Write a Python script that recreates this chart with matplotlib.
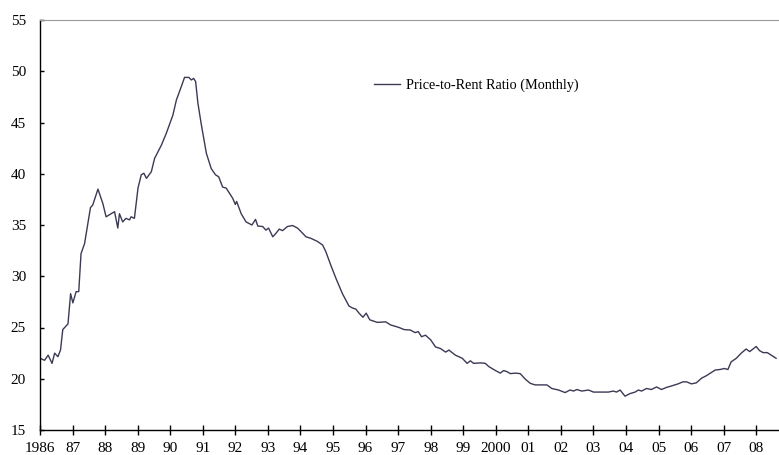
import matplotlib
matplotlib.use("Agg")
import matplotlib.pyplot as plt
import numpy as np

matplotlib.rcParams.update({
    'font.family': 'serif',
    'font.serif': ['Liberation Serif', 'DejaVu Serif'],
    'font.size': 11,
})

# price-to-rent ratio (decimal year, value)
years = [
    1986.00, 1986.14, 1986.25, 1986.37, 1986.45, 1986.55, 1986.63, 1986.70, 1986.86, 1986.94,
    1987.01, 1987.11, 1987.19, 1987.26, 1987.37, 1987.55, 1987.62, 1987.78, 1987.93,
    1988.03, 1988.29, 1988.39, 1988.44, 1988.54, 1988.64, 1988.75, 1988.80, 1988.90,
    1989.01, 1989.11, 1989.19, 1989.27, 1989.42, 1989.52, 1989.73, 1989.88,
    1990.08, 1990.19, 1990.34, 1990.44, 1990.57, 1990.65, 1990.72, 1990.78, 1990.85, 1990.95,
    1991.11, 1991.26, 1991.39, 1991.49, 1991.61, 1991.72, 1991.82, 1991.92,
    1992.00, 1992.04, 1992.18, 1992.33, 1992.51, 1992.62, 1992.69, 1992.84, 1992.94,
    1993.02, 1993.15, 1993.25, 1993.35, 1993.45, 1993.60, 1993.76, 1993.91,
    1994.02, 1994.17, 1994.32, 1994.52, 1994.68, 1994.78, 1994.93,
    1995.09, 1995.29, 1995.49, 1995.60, 1995.70, 1995.80, 1995.92,
    1996.02, 1996.13, 1996.36, 1996.62, 1996.77,
    1997.03, 1997.18, 1997.38, 1997.52, 1997.62, 1997.72, 1997.84,
    1998.00, 1998.15, 1998.30, 1998.46, 1998.56, 1998.76, 1998.97,
    1999.12, 1999.22, 1999.32, 1999.53, 1999.68, 1999.78, 1999.99,
    2000.14, 2000.24, 2000.34, 2000.45, 2000.60, 2000.75, 2000.91,
    2001.06, 2001.21, 2001.57, 2001.72, 2001.93,
    2002.13, 2002.28, 2002.39, 2002.49, 2002.64, 2002.85,
    2003.00, 2003.46, 2003.61, 2003.71, 2003.82, 2003.97,
    2004.12, 2004.28, 2004.38, 2004.48, 2004.63, 2004.78, 2004.94,
    2005.09, 2005.24, 2005.40, 2005.60, 2005.75, 2005.86,
    2006.01, 2006.16, 2006.32, 2006.47, 2006.62, 2006.74, 2006.88,
    2007.03, 2007.13, 2007.23, 2007.39, 2007.54, 2007.69, 2007.80, 2007.90,
    2008.00, 2008.10, 2008.21, 2008.34, 2008.46, 2008.61,
]
ratio = [
    22.0, 21.8, 22.3, 21.5, 22.5, 22.15, 22.8, 24.8, 25.35, 28.3,
    27.4, 28.5, 28.5, 32.2, 33.2, 36.7, 36.95, 38.5, 37.1,
    35.8, 36.3, 34.7, 36.1, 35.3, 35.65, 35.5, 35.8, 35.65,
    38.6, 39.9, 40.05, 39.55, 40.2, 41.5, 42.8, 43.95,
    45.7, 47.2, 48.5, 49.4, 49.4, 49.15, 49.3, 49.0, 46.9, 44.9,
    42.0, 40.5, 39.9, 39.7, 38.7, 38.6, 38.1, 37.6,
    37.0, 37.3, 36.1, 35.3, 35.0, 35.55, 34.9, 34.85, 34.5,
    34.7, 33.85, 34.2, 34.6, 34.45, 34.85, 34.95, 34.7,
    34.35, 33.85, 33.7, 33.4, 33.05, 32.4, 31.1,
    29.8, 28.3, 27.1, 26.9, 26.8, 26.4, 26.0,
    26.4, 25.75, 25.5, 25.55, 25.25,
    25.0, 24.8, 24.75, 24.5, 24.6, 24.1, 24.25,
    23.8, 23.1, 22.95, 22.6, 22.8, 22.3, 22.0,
    21.5, 21.75, 21.5, 21.55, 21.5, 21.2, 20.8,
    20.55, 20.8, 20.7, 20.5, 20.55, 20.5, 19.95,
    19.55, 19.4, 19.4, 19.05, 18.9,
    18.65, 18.9, 18.8, 18.95, 18.8, 18.9,
    18.7, 18.7, 18.8, 18.7, 18.9, 18.3,
    18.55, 18.7, 18.9, 18.8, 19.05, 18.95, 19.2,
    18.95, 19.15, 19.3, 19.5, 19.7, 19.7,
    19.5, 19.6, 20.05, 20.3, 20.6, 20.85, 20.9,
    21.0, 20.9, 21.65, 22.0, 22.5, 22.9, 22.65, 22.9,
    23.15, 22.75, 22.55, 22.55, 22.3, 22.0,
]
tick_years = list(range(1986, 2009))
tick_labels = ['1986', '87', '88', '89', '90', '91', '92', '93', '94', '95', '96',
               '97', '98', '99', '2000', '01', '02', '03', '04', '05', '06', '07', '08']

fig = plt.figure(figsize=(7.79, 4.55), dpi=100)
ax = fig.add_axes([40 / 779, 1 - 430 / 455, 1 - 40 / 779, 410 / 455])

ax.plot(years, ratio, color='#3a3a55', linewidth=1.0,
        label='Price-to-Rent Ratio (Monthly)')

ax.set_xlim(1986, 2008.7)
ax.set_ylim(15, 55)
ax.set_yticks(range(15, 56, 5))
ax.set_xticks(tick_years)
ax.set_xticklabels(tick_labels)

ax.spines['right'].set_visible(False)
ax.spines['top'].set_color('#999999')
ax.spines['left'].set_linewidth(1.0)
ax.spines['bottom'].set_linewidth(1.0)
ax.tick_params(axis='x', direction='inout', length=7, width=1, pad=5)
ax.tick_params(axis='y', direction='in', length=3, width=1, pad=10)

ax.legend(loc='center left', bbox_to_anchor=(0.452, 0.841), frameon=False,
          borderpad=0, borderaxespad=0, handlelength=1.8, handletextpad=0.4,
          fontsize=10.3)

plt.savefig('out.png', dpi=100)
